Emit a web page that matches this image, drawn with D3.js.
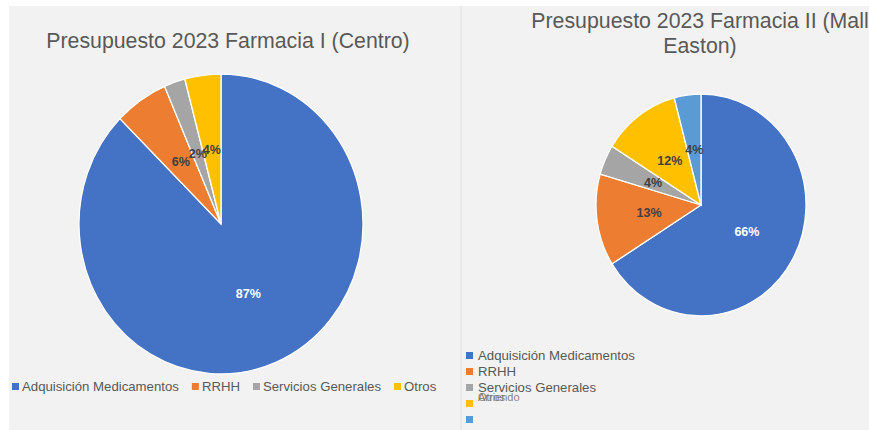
<!DOCTYPE html>
<html>
<head>
<meta charset="utf-8">
<script src="https://cdn.jsdelivr.net/npm/d3@7"></script>
<style>
  body { margin: 0; background: #fff; }
  svg { display: block; font-family: "Liberation Sans", Arial, sans-serif; }
</style>
</head>
<body>
<svg id="chart" width="869" height="430"></svg>
<script>
// Farmacia I (Centro)
const categoriasCentro = ['Adquisición Medicamentos', 'RRHH', 'Servicios Generales', 'Otros'];
const valoresCentro = [87.4, 6.1, 2.4, 4.1];

// Farmacia II (Mall Easton)
const categoriasMall = ['Adquisición Medicamentos', 'RRHH', 'Servicios Generales', 'Otros', 'Arriendo'];
const valoresMall = [66.1, 13.4, 4.4, 12.0, 4.1];

const colores = ['#4472c4', '#ed7d31', '#a5a5a5', '#ffc000', '#5b9bd5'];
const colorLabel = ['#ffffff', '#404040', '#404040', '#404040', '#404040'];

const svg = d3.select('#chart');

// panels
svg.append('rect').attr('x', 9).attr('y', 6).attr('width', 451).attr('height', 424).attr('fill', '#f2f2f2');
svg.append('rect').attr('x', 462).attr('y', 6).attr('width', 407).attr('height', 424).attr('fill', '#f2f2f2');
svg.append('line').attr('x1', 461).attr('x2', 461).attr('y1', 6).attr('y2', 430)
    .attr('stroke', '#e2e2e2').attr('stroke-width', 1.5);

const fmt = d3.format('.0%');

function drawPie(g, values, cx, cy, r, stretch) {
    const total = d3.sum(values);
    const pie = d3.pie().sort(null).value(d => d)(values);
    const arc = d3.arc().innerRadius(0).outerRadius(r);
    const labelArc = d3.arc().innerRadius(r * 0.5).outerRadius(r * 0.5);

    const pieG = g.append('g')
        .attr('transform', 'translate(' + cx + ',' + cy + ') scale(1,' + stretch + ')');
    pieG.selectAll('path')
        .data(pie)
        .enter()
        .append('path')
        .attr('d', arc)
        .attr('fill', (d, i) => colores[i])
        .attr('stroke', '#ffffff')
        .attr('stroke-width', 1.3)
        .attr('vector-effect', 'non-scaling-stroke');

    g.selectAll('text.pct')
        .data(pie)
        .enter()
        .append('text')
        .attr('class', 'pct')
        .attr('x', d => cx + labelArc.centroid(d)[0])
        .attr('y', d => cy + labelArc.centroid(d)[1] * stretch)
        .attr('dy', '0.35em')
        .attr('text-anchor', 'middle')
        .attr('font-size', 12.5)
        .attr('font-weight', 'bold')
        .attr('fill', (d, i) => colorLabel[i])
        .text(d => fmt(d.value / total));
}

// chart 1
const g1 = svg.append('g');
g1.append('text')
    .attr('x', 228).attr('y', 48)
    .attr('text-anchor', 'middle')
    .attr('font-size', 21.3)
    .attr('fill', '#595959')
    .text('Presupuesto 2023 Farmacia I (Centro)');
drawPie(g1, valoresCentro, 221, 224, 142, 1.056);

// horizontal legend
let lx = 12;
categoriasCentro.forEach((c, i) => {
    g1.append('rect').attr('x', lx).attr('y', 383).attr('width', 7).attr('height', 7).attr('fill', colores[i]);
    const t = g1.append('text')
        .attr('x', lx + 10).attr('y', 391)
        .attr('font-size', 13.2)
        .attr('fill', '#595959')
        .text(c);
    lx += 10 + t.node().getComputedTextLength() + 13;
});

// chart 2
const g2 = svg.append('g');
const titulo2 = g2.append('text')
    .attr('text-anchor', 'middle')
    .attr('font-size', 21.3)
    .attr('fill', '#595959');
titulo2.append('tspan').attr('x', 700).attr('y', 28).text('Presupuesto 2023 Farmacia II (Mall');
titulo2.append('tspan').attr('x', 700).attr('y', 53).text('Easton)');
drawPie(g2, valoresMall, 701, 205, 105, 1.056);

// vertical legend (last labels overlap like in the original)
const filas = [352, 368, 384, 400, 416];
categoriasMall.forEach((c, i) => {
    g2.append('rect').attr('x', 466).attr('y', filas[i]).attr('width', 7).attr('height', 7).attr('fill', colores[i]);
    const baseY = i < 3 ? filas[i] + 8 : 401;
    g2.append('text')
        .attr('x', 478).attr('y', baseY)
        .attr('font-size', i < 3 ? 13.2 : 11)
        .attr('fill', i < 3 ? '#595959' : '#6b6b6b')
        .attr('opacity', i < 3 ? 1 : 0.8)
        .text(c);
});
</script>
</body>
</html>
